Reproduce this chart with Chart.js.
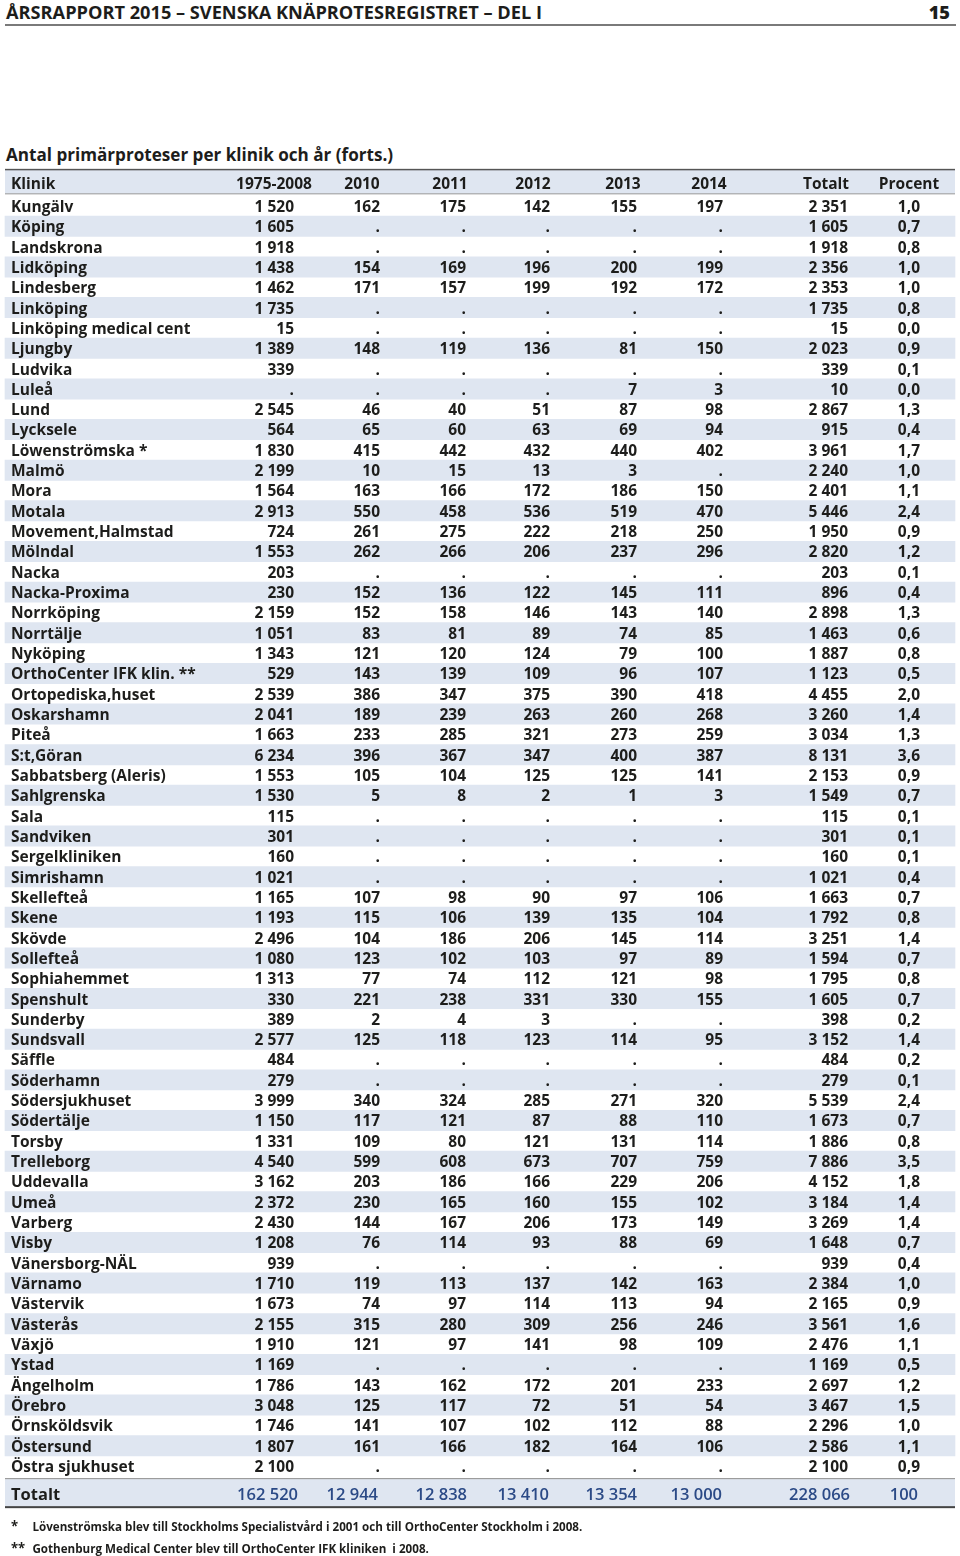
<!DOCTYPE html>
<html lang="sv">
<head>
<meta charset="utf-8">
<title>Antal primärproteser per klinik och år</title>
<script src="https://cdn.jsdelivr.net/npm/chart.js@4.4.1/dist/chart.umd.min.js"></script>
<style>
body { margin: 0; width: 960px; height: 1556px; position: relative; overflow: hidden; background: #fff; font-family: 'Open Sans', sans-serif; color: #1d1d1b; }
#tabell { position: absolute; left: 0; top: 0; }
.sidhuvud { position: absolute; left: 5px; top: 0; width: 951px; height: 24px; border-bottom: 2px solid #7a7a7a; font-weight: 700; font-size: 18.2px; line-height: 24px; }
.sidhuvud span { position: absolute; left: 1px; top: 0; }
.sidhuvud b { position: absolute; right: 6px; top: 0; }
.rubrik { position: absolute; left: 6px; top: 143px; font-weight: 700; font-size: 17.1px; line-height: 24px; }
.fot { position: absolute; left: 11px; font-weight: 700; font-size: 12.5px; line-height: 16px; transform: scaleX(0.93); transform-origin: left center; white-space: nowrap; }
.fot i { font-style: normal; display: inline-block; width: 23px; font-size: 14px; }
</style>
</head>
<body>
<div class="sidhuvud"><span>ÅRSRAPPORT 2015 – SVENSKA KNÄPROTESREGISTRET – DEL I</span><b>15</b></div>
<div class="rubrik">Antal primärproteser per klinik och år (forts.)</div>
<canvas id="tabell" width="960" height="1556"></canvas>
<div class="fot" style="top:1518px"><i>*</i>Lövenströmska blev till Stockholms Specialistvård i 2001 och till OrthoCenter Stockholm i 2008.</div>
<div class="fot" style="top:1540px"><i>**</i>Gothenburg Medical Center blev till OrthoCenter IFK kliniken&nbsp; i 2008.</div>
<script>
// DATA
const kolumner = ['1975-2008', '2010', '2011', '2012', '2013', '2014', 'Totalt', 'Procent'];

const klinik = ['Kungälv', 'Köping', 'Landskrona', 'Lidköping', 'Lindesberg', 'Linköping', 'Linköping medical cent',
  'Ljungby', 'Ludvika', 'Luleå', 'Lund', 'Lycksele', 'Löwenströmska *', 'Malmö', 'Mora', 'Motala', 'Movement,Halmstad',
  'Mölndal', 'Nacka', 'Nacka-Proxima', 'Norrköping', 'Norrtälje', 'Nyköping', 'OrthoCenter IFK klin. **',
  'Ortopediska,huset', 'Oskarshamn', 'Piteå', 'S:t,Göran', 'Sabbatsberg (Aleris)', 'Sahlgrenska', 'Sala', 'Sandviken',
  'Sergelkliniken', 'Simrishamn', 'Skellefteå', 'Skene', 'Skövde', 'Sollefteå', 'Sophiahemmet', 'Spenshult', 'Sunderby',
  'Sundsvall', 'Säffle', 'Söderhamn', 'Södersjukhuset', 'Södertälje', 'Torsby', 'Trelleborg', 'Uddevalla', 'Umeå',
  'Varberg', 'Visby', 'Vänersborg-NÄL', 'Värnamo', 'Västervik', 'Västerås', 'Växjö', 'Ystad', 'Ängelholm', 'Örebro',
  'Örnsköldsvik', 'Östersund', 'Östra sjukhuset'];

// null = "."
const ar1975_2008 = [1520, 1605, 1918, 1438, 1462, 1735, 15, 1389, 339, null, 2545, 564, 1830, 2199, 1564, 2913, 724,
  1553, 203, 230, 2159, 1051, 1343, 529, 2539, 2041, 1663, 6234, 1553, 1530, 115, 301, 160, 1021, 1165, 1193, 2496,
  1080, 1313, 330, 389, 2577, 484, 279, 3999, 1150, 1331, 4540, 3162, 2372, 2430, 1208, 939, 1710, 1673, 2155, 1910,
  1169, 1786, 3048, 1746, 1807, 2100];
const ar2010 = [162, null, null, 154, 171, null, null, 148, null, null, 46, 65, 415, 10, 163, 550, 261, 262, null, 152,
  152, 83, 121, 143, 386, 189, 233, 396, 105, 5, null, null, null, null, 107, 115, 104, 123, 77, 221, 2, 125, null, null,
  340, 117, 109, 599, 203, 230, 144, 76, null, 119, 74, 315, 121, null, 143, 125, 141, 161, null];
const ar2011 = [175, null, null, 169, 157, null, null, 119, null, null, 40, 60, 442, 15, 166, 458, 275, 266, null, 136,
  158, 81, 120, 139, 347, 239, 285, 367, 104, 8, null, null, null, null, 98, 106, 186, 102, 74, 238, 4, 118, null, null,
  324, 121, 80, 608, 186, 165, 167, 114, null, 113, 97, 280, 97, null, 162, 117, 107, 166, null];
const ar2012 = [142, null, null, 196, 199, null, null, 136, null, null, 51, 63, 432, 13, 172, 536, 222, 206, null, 122,
  146, 89, 124, 109, 375, 263, 321, 347, 125, 2, null, null, null, null, 90, 139, 206, 103, 112, 331, 3, 123, null, null,
  285, 87, 121, 673, 166, 160, 206, 93, null, 137, 114, 309, 141, null, 172, 72, 102, 182, null];
const ar2013 = [155, null, null, 200, 192, null, null, 81, null, 7, 87, 69, 440, 3, 186, 519, 218, 237, null, 145,
  143, 74, 79, 96, 390, 260, 273, 400, 125, 1, null, null, null, null, 97, 135, 145, 97, 121, 330, null, 114, null, null,
  271, 88, 131, 707, 229, 155, 173, 88, null, 142, 113, 256, 98, null, 201, 51, 112, 164, null];
const ar2014 = [197, null, null, 199, 172, null, null, 150, null, 3, 98, 94, 402, null, 150, 470, 250, 296, null, 111,
  140, 85, 100, 107, 418, 268, 259, 387, 141, 3, null, null, null, null, 106, 104, 114, 89, 98, 155, null, 95, null, null,
  320, 110, 114, 759, 206, 102, 149, 69, null, 163, 94, 246, 109, null, 233, 54, 88, 106, null];
const totalt = [2351, 1605, 1918, 2356, 2353, 1735, 15, 2023, 339, 10, 2867, 915, 3961, 2240, 2401, 5446, 1950, 2820,
  203, 896, 2898, 1463, 1887, 1123, 4455, 3260, 3034, 8131, 2153, 1549, 115, 301, 160, 1021, 1663, 1792, 3251, 1594,
  1795, 1605, 398, 3152, 484, 279, 5539, 1673, 1886, 7886, 4152, 3184, 3269, 1648, 939, 2384, 2165, 3561, 2476, 1169,
  2697, 3467, 2296, 2586, 2100];
const procent = [1.0, 0.7, 0.8, 1.0, 1.0, 0.8, 0.0, 0.9, 0.1, 0.0, 1.3, 0.4, 1.7, 1.0, 1.1, 2.4, 0.9, 1.2, 0.1, 0.4,
  1.3, 0.6, 0.8, 0.5, 2.0, 1.4, 1.3, 3.6, 0.9, 0.7, 0.1, 0.1, 0.1, 0.4, 0.7, 0.8, 1.4, 0.7, 0.8, 0.7, 0.2, 1.4, 0.2,
  0.1, 2.4, 0.7, 0.8, 3.5, 1.8, 1.4, 1.4, 0.7, 0.4, 1.0, 0.9, 1.6, 1.1, 0.5, 1.2, 1.5, 1.0, 1.1, 0.9];

const summaRad = [162520, 12944, 12838, 13410, 13354, 13000, 228066, 100];

// LAYOUT (x i pixlar på x-skalan 0..960)
const kolumnHoger = [294, 380, 466, 550, 637, 723, 848, 920];
const summaHoger = [298, 378, 467, 549, 637, 722, 850, 918];
const rubrikMitt = [274, 362, 450, 533, 623, 709, 826, 909];
const bandVanster = 5;
const bandHoger = 955;
const randFarg = '#dfe6f1';
const textFarg = '#1d1d1b';
const summaFarg = '#2b4a86';

// FUNKTIONER

function tal(n) {
  if (n === null) return '.';
  return String(n).replace(/\B(?=(\d{3})+(?!\d))/g, ' ');
}

function pct(p) {
  return p.toFixed(1).replace('.', ',');
}

function cellText(c, i) {
  const serier = [ar1975_2008, ar2010, ar2011, ar2012, ar2013, ar2014, totalt];
  if (c < 7) return tal(serier[c][i]);
  return pct(procent[i]);
}

const tabellPlugin = {
  id: 'tabellPlugin',
  beforeDatasetsDraw(chart) {
    const ctx = chart.ctx;
    const x = chart.scales.x;
    const area = chart.chartArea;
    const x0 = x.getPixelForValue(bandVanster);
    const x1 = x.getPixelForValue(bandHoger);
    ctx.save();
    // rubrikrad
    ctx.fillStyle = randFarg;
    ctx.fillRect(x0, area.top - 26, x1 - x0, 24);
    ctx.fillStyle = '#555';
    ctx.fillRect(x0, area.top - 27, x1 - x0, 1.5);
    ctx.fillStyle = '#9a9a9a';
    ctx.fillRect(x0, area.top - 2.5, x1 - x0, 1);
    // summarad
    ctx.fillStyle = randFarg;
    ctx.fillRect(x0, area.bottom + 3, x1 - x0, 28);
    ctx.fillStyle = '#8a8a8a';
    ctx.fillRect(x0, area.bottom + 2, x1 - x0, 1);
    ctx.fillStyle = '#444';
    ctx.fillRect(x0, area.bottom + 30, x1 - x0, 2);
    ctx.restore();
  },
  afterDatasetsDraw(chart) {
    const ctx = chart.ctx;
    const x = chart.scales.x;
    const y = chart.scales.y;
    const area = chart.chartArea;
    ctx.save();
    ctx.textBaseline = 'middle';
    ctx.font = "700 15.5px 'Open Sans'";
    ctx.fillStyle = textFarg;

    // rubriker
    const yRubrik = area.top - 11.5;
    ctx.textAlign = 'left';
    ctx.fillText('Klinik', x.getPixelForValue(11), yRubrik);
    ctx.textAlign = 'center';
    kolumner.forEach((k, c) => ctx.fillText(k, x.getPixelForValue(rubrikMitt[c]), yRubrik));

    // rader
    klinik.forEach((namn, i) => {
      const yp = y.getPixelForValue(i) + 1.5;
      ctx.textAlign = 'left';
      ctx.fillText(namn, x.getPixelForValue(11), yp);
      ctx.textAlign = 'right';
      for (let c = 0; c < kolumner.length; c++) {
        ctx.fillText(cellText(c, i), x.getPixelForValue(kolumnHoger[c]), yp);
      }
    });

    // totalt
    const ySumma = area.bottom + 19;
    ctx.font = "700 16.5px 'Open Sans'";
    ctx.textAlign = 'left';
    ctx.fillText('Totalt', x.getPixelForValue(11), ySumma);
    ctx.fillStyle = summaFarg;
    ctx.textAlign = 'right';
    ctx.font = "600 16.5px 'Open Sans'";
    summaRad.forEach((v, c) => ctx.fillText(tal(v), x.getPixelForValue(summaHoger[c]), ySumma));
    ctx.restore();
  }
};

// CHART
const randData = klinik.map((k, i) => (i % 2 === 1 ? [bandVanster, bandHoger] : null));

const tabell = new Chart(document.getElementById('tabell'), {
  type: 'bar',
  data: {
    labels: klinik,
    datasets: [{
      label: 'rader',
      data: randData,
      backgroundColor: randFarg,
      borderWidth: 0,
      barPercentage: 1,
      categoryPercentage: 1
    }]
  },
  options: {
    indexAxis: 'y',
    responsive: false,
    animation: false,
    layout: { padding: { top: 195.84, bottom: 79.84, left: 0, right: 0 } },
    plugins: { legend: { display: false }, tooltip: { enabled: false } },
    scales: {
      x: { type: 'linear', min: 0, max: 960, display: false },
      y: { display: false, offset: true, grid: { display: false } }
    }
  },
  plugins: [tabellPlugin]
});
</script>
</body>
</html>
